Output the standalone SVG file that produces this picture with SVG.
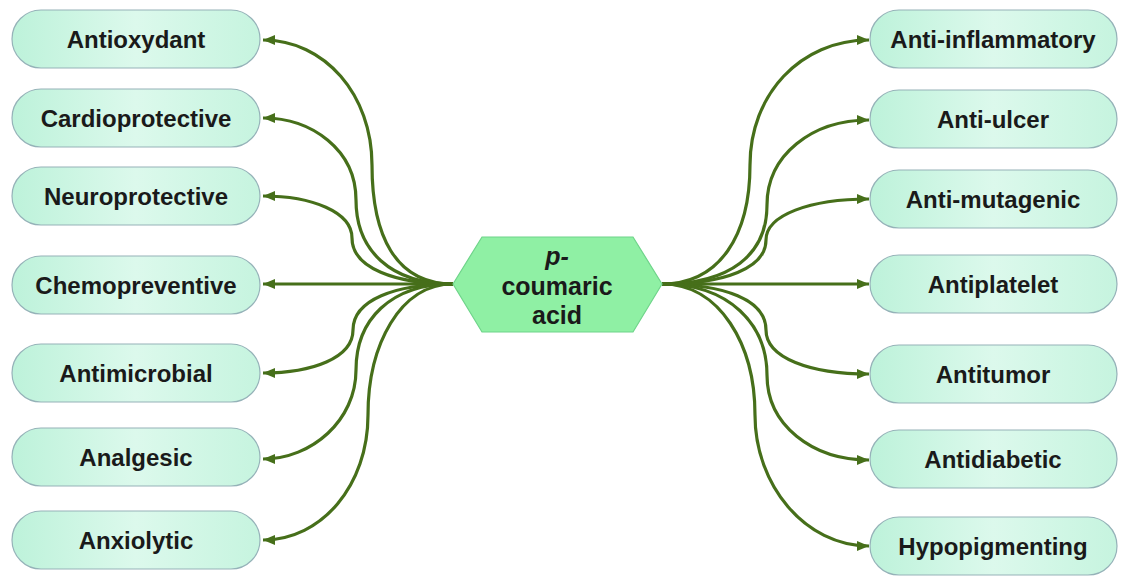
<svg xmlns="http://www.w3.org/2000/svg" width="1124" height="577" viewBox="0 0 1124 577">
<defs>
<linearGradient id="ng" x1="0" y1="0" x2="1" y2="0">
<stop offset="0" stop-color="#bdf2da"/>
<stop offset="0.5" stop-color="#dcf9ec"/>
<stop offset="1" stop-color="#c6f4df"/>
</linearGradient>
<marker id="ah" markerUnits="userSpaceOnUse" markerWidth="14" markerHeight="12" refX="12" refY="5" orient="auto">
<path d="M0,0 L12,5 L0,10 z" fill="#466f1a"/>
</marker>
<style>
.node rect{fill:url(#ng);stroke:#95b2b8;stroke-width:1.2}
.node text{font-family:"Liberation Sans",Arial,sans-serif;font-weight:bold;font-size:24px;fill:#1a1a1a;text-anchor:middle}
#connectors path{fill:none;stroke:#466f1a;stroke-width:3.2;marker-end:url(#ah)}
.hub polygon{fill:#8ff0a4;stroke:#6fd48a;stroke-width:1.2}
.hub text{font-family:"Liberation Sans",Arial,sans-serif;font-weight:bold;font-size:25px;fill:#1a1a1a;text-anchor:middle}
</style>
</defs>
<rect width="1124" height="577" fill="#ffffff"/>
<g id="connectors">
<path d="M453,284 C395,284 372,235 372,165 C372,95 325,40 263,40"/>
<path d="M453,284 C390,284 356,250 356,200 C356,150 312,118 263,118"/>
<path d="M453,284 C395,284 352,268 352,238 C352,212 312,196 263,196"/>
<path d="M453,284 L263,284"/>
<path d="M453,284 C395,284 353,300 353,330 C353,358 312,373 263,373"/>
<path d="M453,284 C390,284 356,320 356,370 C356,420 312,459 263,459"/>
<path d="M453,284 C400,284 368,345 368,415 C368,485 322,540 263,540"/>
<path d="M662,284 C720,284 750,235 750,165 C750,95 800,40 869,40"/>
<path d="M662,284 C730,284 767,255 767,205 C767,155 812,120 869,120"/>
<path d="M662,284 C725,284 766,268 766,240 C766,215 810,199 869,199"/>
<path d="M662,284 L869,284"/>
<path d="M662,284 C725,284 766,300 766,330 C766,358 810,374 869,374"/>
<path d="M662,284 C730,284 767,325 767,375 C767,425 812,460 869,460"/>
<path d="M662,284 C720,284 755,345 755,415 C755,485 805,546 869,546"/>
</g>
<g id="hub" class="hub">
<polygon points="453,284 482,237 633,237 662,284 633,332 482,332"/>
<text x="557" y="265" font-style="italic">p-</text>
<text x="557" y="295">coumaric</text>
<text x="557" y="324">acid</text>
</g>
<g id="n-antioxydant" class="node"><rect x="12" y="10" width="248" height="58" rx="29"/><text x="136" y="48">Antioxydant</text></g>
<g id="n-cardioprotective" class="node"><rect x="12" y="89" width="248" height="58" rx="29"/><text x="136" y="127">Cardioprotective</text></g>
<g id="n-neuroprotective" class="node"><rect x="12" y="167" width="248" height="58" rx="29"/><text x="136" y="205">Neuroprotective</text></g>
<g id="n-chemopreventive" class="node"><rect x="12" y="256" width="248" height="58" rx="29"/><text x="136" y="294">Chemopreventive</text></g>
<g id="n-antimicrobial" class="node"><rect x="12" y="344" width="248" height="58" rx="29"/><text x="136" y="382">Antimicrobial</text></g>
<g id="n-analgesic" class="node"><rect x="12" y="428" width="248" height="58" rx="29"/><text x="136" y="466">Analgesic</text></g>
<g id="n-anxiolytic" class="node"><rect x="12" y="511" width="248" height="58" rx="29"/><text x="136" y="549">Anxiolytic</text></g>
<g id="n-antiinflammatory" class="node"><rect x="870" y="10" width="247" height="58" rx="29"/><text x="993" y="48">Anti-inflammatory</text></g>
<g id="n-antiulcer" class="node"><rect x="870" y="90" width="247" height="58" rx="29"/><text x="993" y="128">Anti-ulcer</text></g>
<g id="n-antimutagenic" class="node"><rect x="870" y="170" width="247" height="58" rx="29"/><text x="993" y="208">Anti-mutagenic</text></g>
<g id="n-antiplatelet" class="node"><rect x="870" y="255" width="247" height="58" rx="29"/><text x="993" y="293">Antiplatelet</text></g>
<g id="n-antitumor" class="node"><rect x="870" y="345" width="247" height="58" rx="29"/><text x="993" y="383">Antitumor</text></g>
<g id="n-antidiabetic" class="node"><rect x="870" y="430" width="247" height="58" rx="29"/><text x="993" y="468">Antidiabetic</text></g>
<g id="n-hypopigmenting" class="node"><rect x="870" y="517" width="247" height="58" rx="29"/><text x="993" y="555">Hypopigmenting</text></g>
</svg>
